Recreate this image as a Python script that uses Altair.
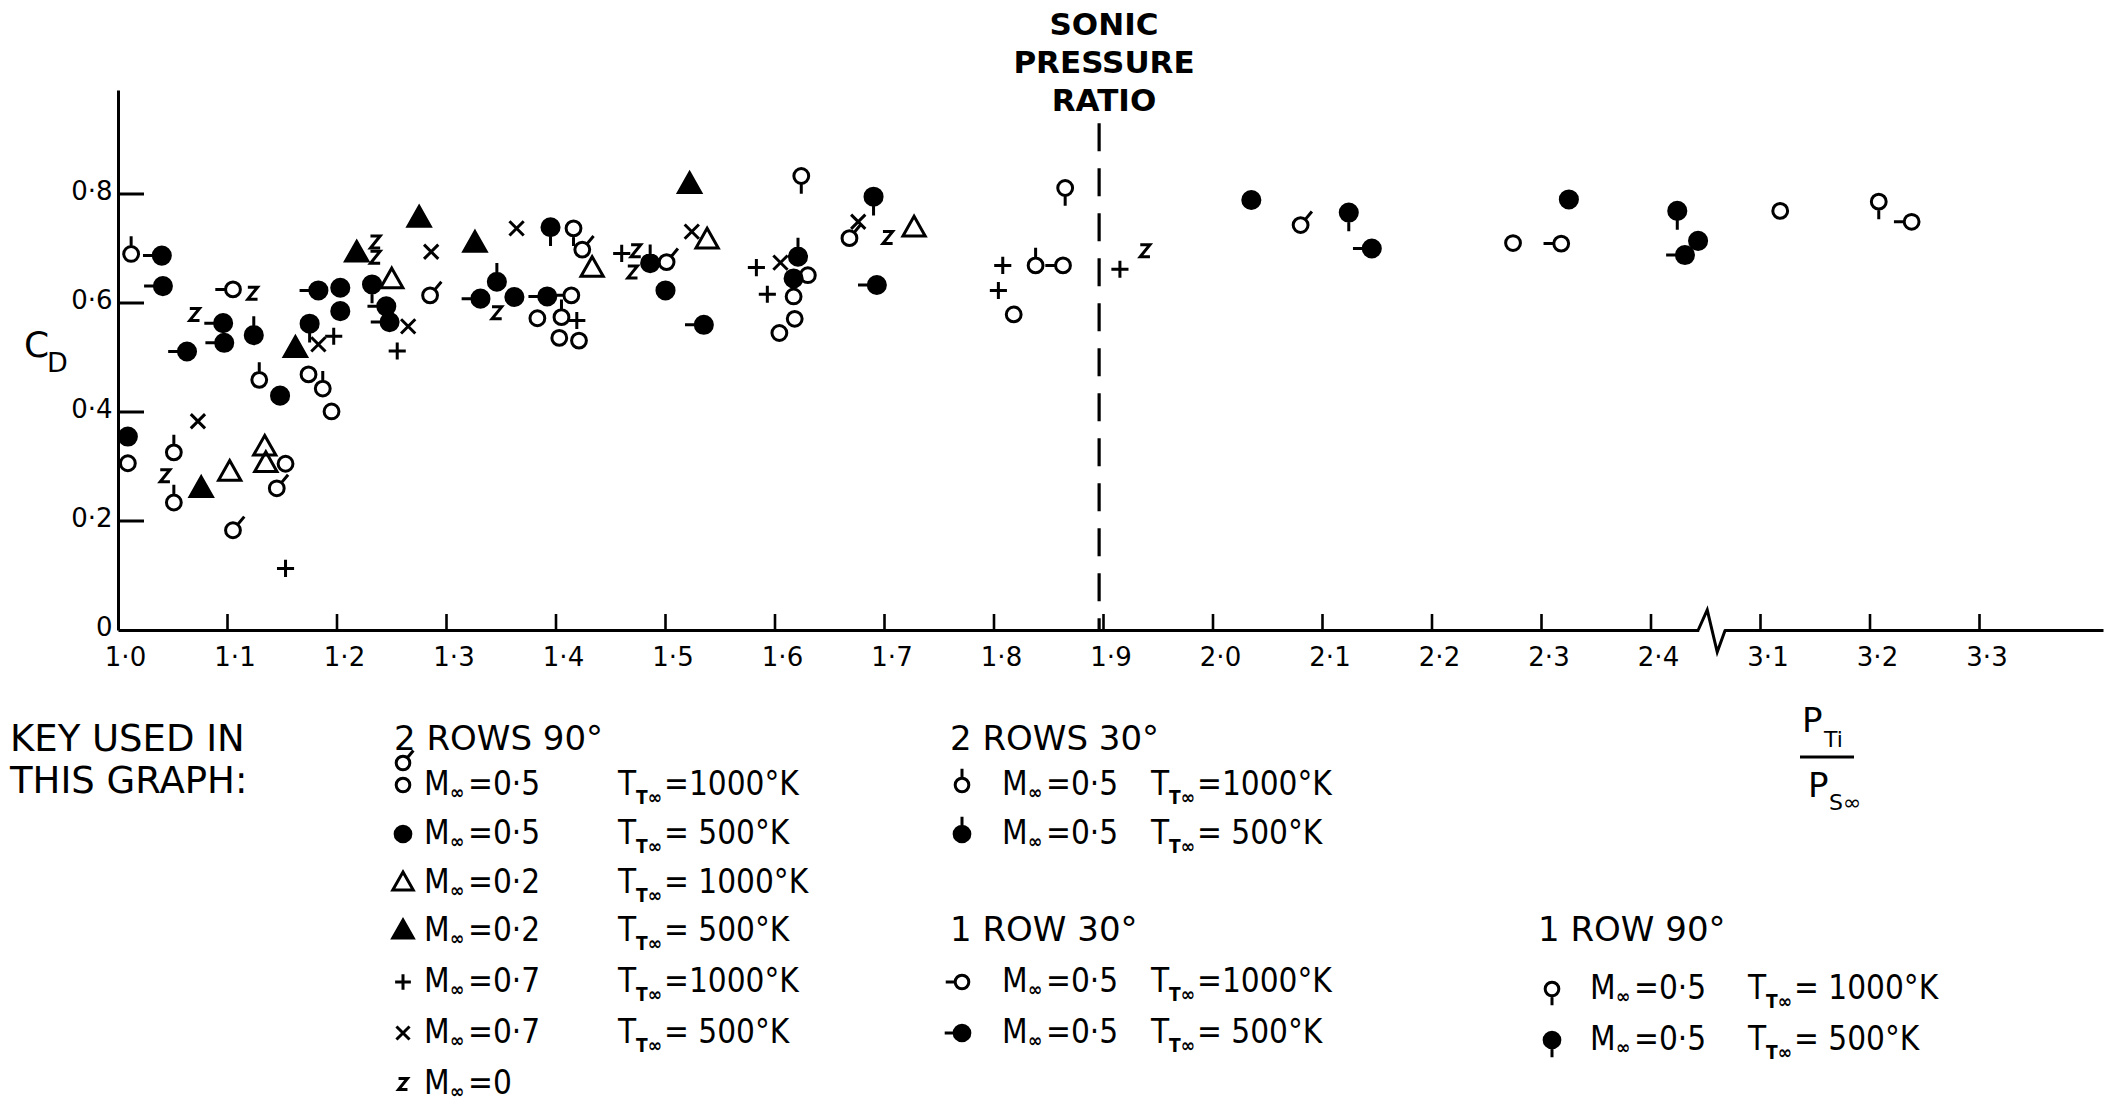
import altair as alt
import pandas as pd

# ---------------- data: P_Ti/P_s_inf (pr) and C_D (cd) ----------------
# 2 ROWS 90 deg, M=0.5, T=1000 K  (plain open circle)
r2_90_1000_pr = [1.009, 1.153, 1.174, 1.195, 1.383, 1.403, 1.421, 1.604, 1.630, 1.618, 1.818, 2.274, 3.118]
r2_90_1000_cd = [0.306, 0.305, 0.469, 0.401, 0.572, 0.536, 0.531, 0.545, 0.651, 0.571, 0.579, 0.710, 0.769]
# 2 ROWS 90 deg, M=0.5, T=1000 K  (open circle with slanted tail)
r2_90_1000b_pr = [1.105, 1.145, 1.285, 1.424, 1.501, 1.668, 2.080]
r2_90_1000b_cd = [0.183, 0.260, 0.614, 0.698, 0.675, 0.719, 0.743]
# 2 ROWS 90 deg, M=0.5, T=500 K
r2_90_500_pr = [1.009, 1.148, 1.203, 1.203, 1.362, 1.500, 1.617, 2.035, 2.325, 2.443]
r2_90_500_cd = [0.355, 0.430, 0.628, 0.585, 0.611, 0.623, 0.645, 0.789, 0.790, 0.714]
# M=0.2, T=1000 K
m02_1000_pr = [1.102, 1.134, 1.135, 1.250, 1.433, 1.538, 1.727]
m02_1000_cd = [0.289, 0.335, 0.305, 0.642, 0.663, 0.715, 0.737]
# M=0.2, T=500 K
m02_500_pr = [1.076, 1.162, 1.218, 1.275, 1.326, 1.522]
m02_500_cd = [0.259, 0.516, 0.691, 0.755, 0.709, 0.817]
# M=0.7, T=1000 K
m07_1000_pr = [1.153, 1.197, 1.255, 1.419, 1.460, 1.583, 1.593, 1.808, 1.804, 1.915]
m07_1000_cd = [0.113, 0.539, 0.512, 0.568, 0.691, 0.665, 0.616, 0.669, 0.623, 0.662]
# M=0.7, T=500 K
m07_500_pr = [1.073, 1.183, 1.265, 1.286, 1.364, 1.524, 1.605, 1.676]
m07_500_cd = [0.383, 0.524, 0.557, 0.694, 0.737, 0.731, 0.674, 0.749]
# M=0
m0_pr = [1.043, 1.070, 1.123, 1.235, 1.235, 1.346, 1.470, 1.473, 1.703, 1.938]
m0_cd = [0.283, 0.579, 0.618, 0.712, 0.684, 0.582, 0.657, 0.696, 0.720, 0.696]
# 2 ROWS 30 deg, T=1000 K
r2_30_1000_pr = [1.012, 1.051, 1.051, 1.129, 1.187, 1.405, 1.617, 1.838]
r2_30_1000_cd = [0.690, 0.326, 0.234, 0.459, 0.443, 0.574, 0.612, 0.669]
# 2 ROWS 30 deg, T=500 K
r2_30_500_pr = [1.124, 1.346, 1.486, 1.621]
r2_30_500_cd = [0.541, 0.639, 0.673, 0.685]
# 1 ROW 30 deg, T=1000 K
r1_30_1000_pr = [1.105, 1.414, 1.863, 2.318, 3.238]
r1_30_1000_cd = [0.625, 0.614, 0.669, 0.709, 0.749]
# 1 ROW 30 deg, T=500 K
r1_30_500_pr = [1.040, 1.041, 1.096, 1.097, 1.063, 1.183, 1.245, 1.248, 1.331, 1.392, 1.535, 1.693, 2.145, 2.431]
r1_30_500_cd = [0.687, 0.631, 0.563, 0.527, 0.511, 0.623, 0.594, 0.565, 0.608, 0.612, 0.560, 0.633, 0.700, 0.688]
# 1 ROW 90 deg, T=1000 K
r1_90_1000_pr = [1.416, 1.624, 1.865, 3.208]
r1_90_1000_cd = [0.737, 0.833, 0.811, 0.786]
# 1 ROW 90 deg, T=500 K
r1_90_500_pr = [1.175, 1.232, 1.395, 1.690, 2.124, 2.424]
r1_90_500_cd = [0.562, 0.634, 0.739, 0.795, 0.766, 0.769]

SONIC_RATIO = 1.896
x_ticks = [round(1.0 + 0.1 * i, 1) for i in range(18)]   # 2.5..2.7 are shown as 3.1..3.3
y_ticks = [0, 0.2, 0.4, 0.6, 0.8]

# key contents
key_col = [1, 1, 1, 1, 1, 1, 1, 2, 2, 2, 2, 3, 3]
key_row = [1, 2, 3, 4, 5, 6, 7, 1, 2, 5, 6, 5, 6]
key_sym = ["o_plain", "f_plain", "o_tri", "f_tri", "plus", "cross", "zee",
           "o_up", "f_up", "o_left", "f_left", "o_down", "f_down"]
key_mach = ["0·5", "0·5", "0·2", "0·2", "0·7", "0·7", "0", "0·5", "0·5", "0·5", "0·5", "0·5", "0·5"]
key_temp = ["=1000°K", "= 500°K", "= 1000°K", "=  500°K", "=1000°K", "= 500°K", "",
            "=1000°K", "= 500°K", "=1000°K", "= 500°K", "= 1000°K", "= 500°K"]
head_text = ["2 ROWS 90°", "2 ROWS 30°", "1 ROW 30°", "1 ROW 90°"]
head_col = [1, 2, 2, 3]
head_row = [0, 0, 4, 4]

# ---------------- layout ----------------
FONT = "DejaVu Sans"
FONT_N = "DejaVu Sans Condensed, DejaVu Sans"
PAD_L, PAD_T = 118, 90
W, H = 1985, 540
PX_X = 1095.0      # px per unit of pressure ratio
PX_Y = 545.0       # px per unit of C_D
XMAX = 1.0 + W / PX_X
YMAX = H / PX_Y
XS = alt.Scale(domain=[1.0, XMAX], nice=False, zero=False)
YS = alt.Scale(domain=[0, YMAX], nice=False, zero=False)

ROW_Y = [740, 785, 834, 883, 931, 982, 1033, 1084]
HEAD_X = {1: 394, 2: 950, 3: 1538}
COL_X = {1: dict(sym=403, M=424, T=618, dy=0), 2: dict(sym=962, M=1002, T=1151, dy=0),
         3: dict(sym=1552, M=1590, T=1748, dy=7)}

# ---------------- glyphs ----------------
def circ(r):
    return f"M{-r},0A{r},{r},0,1,0,{r},0A{r},{r},0,1,0,{-r},0Z"

RO, RF, ST = 1.3, 1.5, 1.8
SYMBOLS = {
    "o_plain": (circ(RO), "transparent"),
    "o_slant": (circ(RO) + f"M{0.64*RO:.3f},{-0.77*RO:.3f}L{0.64*(RO+ST):.3f},{-0.77*(RO+ST):.3f}", "transparent"),
    "f_plain": (circ(RF), "black"),
    "o_tri": ("M0,-2.1L1.95,1.35L-1.95,1.35Z", "transparent"),
    "f_tri": ("M0,-2.1L1.95,1.35L-1.95,1.35Z", "black"),
    "plus": ("M-1.5,0L1.5,0M0,-1.5L0,1.5", "transparent"),
    "cross": ("M-1.25,-1.25L1.25,1.25M-1.25,1.25L1.25,-1.25", "transparent"),
    "zee": ("M-0.85,-1.05L0.85,-1.05L-0.85,1.05L0.85,1.05", "transparent"),
    "o_up": (circ(RO) + f"M0,{-RO}L0,{-(RO+ST):.2f}", "transparent"),
    "f_up": (circ(RF) + f"M0,{-RF}L0,{-(RF+ST):.2f}", "black"),
    "o_left": (circ(RO) + f"M{-RO},0L{-(RO+ST):.2f},0", "transparent"),
    "f_left": (circ(RF) + f"M{-RF},0L{-(RF+ST):.2f},0", "black"),
    "o_down": (circ(RO) + f"M0,{RO}L0,{RO+ST:.2f}", "transparent"),
    "f_down": (circ(RF) + f"M0,{RF}L0,{RF+ST:.2f}", "black"),
}
SYM_KEYS = list(SYMBOLS)
SHAPE = alt.Scale(domain=SYM_KEYS, range=[SYMBOLS[k][0] for k in SYM_KEYS])
FILL = alt.Scale(domain=SYM_KEYS, range=[SYMBOLS[k][1] for k in SYM_KEYS])
SYM_SIZE = 130
SYM_STROKE = 3

SERIES = [
    ("o_plain", r2_90_1000_pr, r2_90_1000_cd), ("o_slant", r2_90_1000b_pr, r2_90_1000b_cd),
    ("f_plain", r2_90_500_pr, r2_90_500_cd), ("o_tri", m02_1000_pr, m02_1000_cd),
    ("f_tri", m02_500_pr, m02_500_cd), ("plus", m07_1000_pr, m07_1000_cd),
    ("cross", m07_500_pr, m07_500_cd), ("zee", m0_pr, m0_cd),
    ("o_up", r2_30_1000_pr, r2_30_1000_cd), ("f_up", r2_30_500_pr, r2_30_500_cd),
    ("o_left", r1_30_1000_pr, r1_30_1000_cd), ("f_left", r1_30_500_pr, r1_30_500_cd),
    ("o_down", r1_90_1000_pr, r1_90_1000_cd), ("f_down", r1_90_500_pr, r1_90_500_cd),
]
pts = pd.DataFrame([{"sym": k, "pr": x, "cd": y} for k, xs, ys in SERIES for x, y in zip(xs, ys)])

XLAB = "replace(format(datum.value > 2.45 ? datum.value + 0.6 : datum.value, '.1f'), '.', '·')"
YLAB = "datum.value == 0 ? '0' : replace(format(datum.value, '.1f'), '.', '·')"
AX_X = alt.Axis(values=x_ticks, labelExpr=XLAB, ticks=False, grid=False, title=None,
                domainColor="black", domainWidth=3, labelFont=FONT, labelFontSize=26,
                labelColor="black", labelPadding=14, labelOffset=7, labelFlush=False,
                labelOverlap=False, labelBound=False)
AX_Y = alt.Axis(values=y_ticks, labelExpr=YLAB, ticks=False, grid=False, title=None,
                domainColor="black", domainWidth=3, labelFont=FONT, labelFontSize=26,
                labelColor="black", labelPadding=6, labelOffset=-3, labelFlush=False,
                labelOverlap=False)

points = alt.Chart(pts).transform_calculate(
    p="datum.pr > 2.5 ? datum.pr - 0.6 : datum.pr"
).mark_point(size=SYM_SIZE, strokeWidth=SYM_STROKE, stroke="black", opacity=1, fillOpacity=1).encode(
    x=alt.X("p:Q", scale=XS, axis=AX_X),
    y=alt.Y("cd:Q", scale=YS, axis=AX_Y),
    shape=alt.Shape("sym:N", scale=SHAPE, legend=None),
    fill=alt.Fill("sym:N", scale=FILL, legend=None),
)

ytick = alt.Chart(pd.DataFrame({"v": y_ticks[1:]})).mark_rule(strokeWidth=3, color="black").encode(
    y=alt.Y("v:Q", scale=YS, axis=None), x=alt.value(0), x2=alt.value(26))
xtick = alt.Chart(pd.DataFrame({"p": x_ticks[1:]})).mark_rule(strokeWidth=2.6, color="black").encode(
    x=alt.X("p:Q", scale=XS, axis=None), y=alt.value(H), y2=alt.value(H - 16))

brk = pd.DataFrame({"p": [2.455], "v": [0.0]})
cover = alt.Chart(brk).mark_point(shape="M-2.4,-0.5L2.6,-0.5L2.6,0.5L-2.4,0.5Z", size=100, filled=True,
                                  fill="white", strokeWidth=0, opacity=1).encode(
    x=alt.X("p:Q", scale=XS, axis=None), y=alt.Y("v:Q", scale=YS, axis=None))
zig = alt.Chart(brk).mark_point(shape="M-2.6,0L-0.8,-4L1.2,4.4L2.8,0", size=100, fill="transparent",
                                stroke="black", strokeWidth=3, opacity=1).encode(
    x=alt.X("p:Q", scale=XS, axis=None), y=alt.Y("v:Q", scale=YS, axis=None))

sonic = alt.Chart(pd.DataFrame({"p": [SONIC_RATIO], "top": [0.93], "bot": [0.0]})).mark_rule(
    strokeDash=[28, 17], strokeWidth=3.2, color="black").encode(
    x=alt.X("p:Q", scale=XS, axis=None), y=alt.Y("top:Q", scale=YS, axis=None), y2="bot:Q")

# ---------------- texts and key ----------------
txt, txt_n, txt_s, syms = [], [], [], []
def put(text, x, y, fs, kind=""):
    tgt = {"n": txt_n, "s": txt_s}.get(kind, txt)
    tgt.append(dict(text=text, px=x - PAD_L, py=y - PAD_T, fs=fs))

put("KEY USED IN", 10, 740, 37)
put("THIS GRAPH:", 10, 782, 37)
for t, c, r in zip(head_text, head_col, head_row):
    put(t, HEAD_X[c], ROW_Y[r], 34)
for c, r, s, m, t in zip(key_col, key_row, key_sym, key_mach, key_temp):
    L = COL_X[c]
    y = ROW_Y[r] + L["dy"]
    syms.append(dict(sym=s, px=L["sym"] - PAD_L, py=y - PAD_T))
    put("M", L["M"], y, 33, "n")
    put("∞", L["M"] + 26, y + 8, 19, "s")
    put("=" + m, L["M"] + 44, y, 33, "n")
    if t:
        put("T", L["T"], y, 33, "n")
        put("T∞", L["T"] + 18, y + 13, 19, "s")
        put(t, L["T"] + 46, y, 33, "n")
syms.append(dict(sym="o_slant", px=COL_X[1]["sym"] - PAD_L, py=763 - PAD_T))

put("C", 24, 346, 36)
put("D", 47, 364, 27)
put("P", 1802, 722, 34)
put("Ti", 1824, 740, 22)
put("P", 1808, 787, 34)
put("S∞", 1829, 803, 22)

def text_layer(rows, font, weight="normal"):
    return alt.Chart(pd.DataFrame(rows)).mark_text(align="left", baseline="middle", font=font,
                                                   fontWeight=weight, color="black").encode(
        x=alt.X("px:Q", scale=None, axis=None), y=alt.Y("py:Q", scale=None, axis=None),
        text="text:N", size=alt.Size("fs:Q", scale=None, legend=None))

text_left = text_layer(txt, FONT)
text_narrow = text_layer(txt_n, FONT_N)
text_sub = text_layer(txt_s, FONT_N, "bold")

sonic_txt = pd.DataFrame({"text": ["SONIC", "PRESSURE", "RATIO"],
                          "px": [1104 - PAD_L] * 3, "py": [26 - PAD_T, 64 - PAD_T, 102 - PAD_T]})
text_center = alt.Chart(sonic_txt).mark_text(align="center", baseline="middle", font=FONT,
                                             fontSize=31, fontWeight="bold", color="black").encode(
    x=alt.X("px:Q", scale=None, axis=None), y=alt.Y("py:Q", scale=None, axis=None), text="text:N")

bar = alt.Chart(pd.DataFrame({"x1": [1800 - PAD_L], "x2": [1854 - PAD_L], "y": [757 - PAD_T]})).mark_rule(
    strokeWidth=3, color="black").encode(
    x=alt.X("x1:Q", scale=None, axis=None), x2="x2:Q", y=alt.Y("y:Q", scale=None, axis=None))

key_syms = alt.Chart(pd.DataFrame(syms)).mark_point(size=SYM_SIZE - 20, strokeWidth=SYM_STROKE, stroke="black",
                                                     opacity=1, fillOpacity=1).encode(
    x=alt.X("px:Q", scale=None, axis=None), y=alt.Y("py:Q", scale=None, axis=None),
    shape=alt.Shape("sym:N", scale=SHAPE, legend=None),
    fill=alt.Fill("sym:N", scale=FILL, legend=None))

chart = alt.layer(
    points, cover, zig, ytick, xtick, sonic, text_left, text_narrow, text_sub, text_center, bar, key_syms
).resolve_scale(x="independent", y="independent").properties(
    width=W, height=H,
    padding={"left": PAD_L, "top": PAD_T, "right": 2108 - PAD_L - W, "bottom": 1105 - PAD_T - H},
    autosize=alt.AutoSizeParams(type="none"),
    background="white",
).configure_view(stroke=None)

chart.save("out.html", embed_options={"renderer": "svg", "actions": False})
